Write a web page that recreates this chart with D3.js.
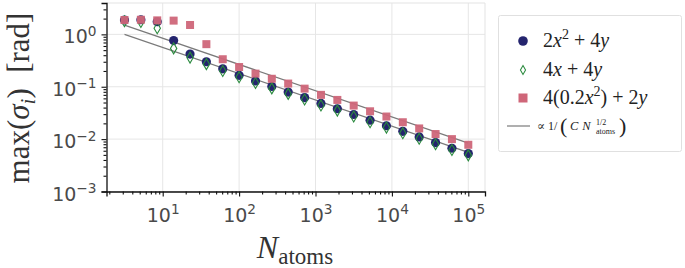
<!DOCTYPE html>
<html>
<head>
<meta charset="utf-8">
<script src="https://cdn.jsdelivr.net/npm/d3@7"></script>
<style>
  body { margin: 0; background: #fff; }
  svg { display: block; }
</style>
</head>
<body>
<svg id="chart"></svg>
<script>
// N_atoms sampled on the x axis
var nAtoms = [3.16, 5.18, 8.48, 13.9, 22.8, 37.3, 61.1, 100, 164, 268, 439, 720,
  1179, 1931, 3162, 5179, 8483, 13895, 22758, 37276, 61054, 100000];

// max(sigma_i) for each cost function
var quadQuad = [1.88, 1.90, 1.75, 0.76, 0.42, 0.30, 0.22, 0.165, 0.129, 0.101, 0.079, 0.062,
  0.048, 0.038, 0.0295, 0.023, 0.018, 0.0141, 0.011, 0.0086, 0.0067, 0.0053];
var linLin = [1.78, 1.72, 1.31, 0.54, 0.36, 0.27, 0.20, 0.152, 0.118, 0.093, 0.073, 0.057,
  0.044, 0.035, 0.027, 0.021, 0.0166, 0.013, 0.0102, 0.0080, 0.0062, 0.0049];
var weakQuad = [1.88, 1.90, 1.85, 1.83, 1.51, 0.65, 0.335, 0.238, 0.178, 0.142, 0.115, 0.092,
  0.070, 0.056, 0.0437, 0.034, 0.027, 0.021, 0.016, 0.0125, 0.0100, 0.0078];

// 1/sqrt(N) guide lines (end points)
var guideHigh = [[3.16, 1.5], [100000, 0.0084]];
var guideLow = [[3.16, 1.0], [100000, 0.0056]];

var xTicks = [10, 100, 1000, 10000, 100000];
var yTicks = [1e-3, 1e-2, 1e-1, 1];

var colors = {
  quad: '#24246e',
  lin: '#2a8a3e',
  weak: '#cf6679',
  guide: '#7a7a7a'
};

var margin = { top: 3, right: 200, bottom: 76.5, left: 106.5 },
  width = 685 - margin.left - margin.right,
  height = 268 - margin.top - margin.bottom;

var root = d3.select('#chart')
  .attr('width', 685)
  .attr('height', 268);

var svg = root.append('g')
  .attr('transform', 'translate(' + margin.left + ',' + margin.top + ')');

var x = d3.scaleLog().domain([1.838, 1.654e5]).range([0, width]);
var y = d3.scaleLog().domain([1e-3, 3.97]).range([height, 0]);

// minor tick values
function minors(lo, hi) {
  var out = [];
  for (var e = lo; e < hi; e++) {
    for (var m = 2; m <= 9; m++) out.push(m * Math.pow(10, e));
  }
  return out;
}
var xMinor = minors(0, 6).filter(function (v) { return v > x.domain()[0] && v < x.domain()[1]; });
var yMinor = minors(-3, 1).filter(function (v) { return v > y.domain()[0] && v < y.domain()[1]; });

// grid
svg.append('g').selectAll('line')
  .data(xTicks)
  .enter().append('line')
  .attr('x1', function (d) { return x(d); })
  .attr('x2', function (d) { return x(d); })
  .attr('y1', 0).attr('y2', height)
  .attr('stroke', '#e6e6e6');
svg.append('g').selectAll('line')
  .data(yTicks)
  .enter().append('line')
  .attr('x1', 0).attr('x2', width)
  .attr('y1', function (d) { return y(d); })
  .attr('y2', function (d) { return y(d); })
  .attr('stroke', '#e6e6e6');

// top/right frame
svg.append('path')
  .attr('d', 'M0,0H' + width + 'V' + height)
  .attr('fill', 'none')
  .attr('stroke', '#e3e3e3');

function supLabel(sel, fmt) {
  sel.selectAll('.tick text').each(function (d) {
    var t = d3.select(this).text('10');
    t.append('tspan')
      .attr('dy', '-0.55em')
      .attr('font-size', '0.72em')
      .text(fmt(d));
  });
}

// x axis
var gx = svg.append('g')
  .attr('transform', 'translate(0,' + height + ')')
  .call(d3.axisBottom(x).tickValues(xTicks).tickSize(5).tickPadding(8));
svg.append('g')
  .attr('transform', 'translate(0,' + height + ')')
  .call(d3.axisBottom(x).tickValues(xMinor).tickSize(3).tickFormat(''))
  .select('.domain').remove();

// y axis
var gy = svg.append('g')
  .call(d3.axisLeft(y).tickValues(yTicks).tickSize(5).tickPadding(5));
svg.append('g')
  .call(d3.axisLeft(y).tickValues(yMinor).tickSize(3).tickFormat(''))
  .select('.domain').remove();

root.selectAll('.domain').attr('stroke', '#111').attr('stroke-width', 1.3);
root.selectAll('.tick line').attr('stroke', '#111').attr('stroke-width', 1.1);

[gx, gy].forEach(function (g) {
  g.selectAll('.tick text')
    .attr('font-family', 'DejaVu Sans, sans-serif')
    .attr('font-size', 19)
    .attr('fill', '#4a4a4a');
});
supLabel(gx, function (d) { return String(Math.round(Math.log10(d))); });
supLabel(gy, function (d) { return String(Math.round(Math.log10(d))).replace('-', '\u2212'); });
gx.selectAll('.tick text').attr('dy', '0.9em');
gy.selectAll('.tick text').attr('dy', '0.45em');

// guide lines
var line = d3.line()
  .x(function (d) { return x(d[0]); })
  .y(function (d) { return y(d[1]); });
[guideHigh, guideLow].forEach(function (g) {
  svg.append('path')
    .attr('d', line(g))
    .attr('fill', 'none')
    .attr('stroke', colors.guide)
    .attr('stroke-width', 1.2);
});

// blue circles
svg.selectAll('.quad')
  .data(d3.zip(nAtoms, quadQuad))
  .enter().append('circle')
  .attr('class', 'quad')
  .attr('cx', function (d) { return x(d[0]); })
  .attr('cy', function (d) { return y(d[1]); })
  .attr('r', 4.6)
  .attr('fill', colors.quad);

// green diamonds (thin)
var diamond = 'M0,-5.5L3.2,0L0,5.5L-3.2,0Z';
svg.selectAll('.lin')
  .data(d3.zip(nAtoms, linLin))
  .enter().append('path')
  .attr('class', 'lin')
  .attr('d', diamond)
  .attr('transform', function (d) { return 'translate(' + x(d[0]) + ',' + y(d[1]) + ')'; })
  .attr('fill', 'none')
  .attr('stroke', colors.lin)
  .attr('stroke-width', 1.1);

// pink squares
svg.selectAll('.weak')
  .data(d3.zip(nAtoms, weakQuad))
  .enter().append('rect')
  .attr('class', 'weak')
  .attr('x', function (d) { return x(d[0]) - 4; })
  .attr('y', function (d) { return y(d[1]) - 4; })
  .attr('width', 8)
  .attr('height', 8)
  .attr('fill', colors.weak)
  .attr('opacity', 0.95);

// axis titles
var serif = 'Liberation Serif, DejaVu Serif, serif';
var xl = root.append('text')
  .attr('x', 295).attr('y', 258)
  .attr('text-anchor', 'middle')
  .attr('font-family', serif)
  .attr('font-size', 32)
  .attr('fill', '#333');
xl.append('tspan').attr('font-style', 'italic').text('N');
xl.append('tspan').attr('font-size', 23).attr('dy', 6).text('atoms');

var yl = root.append('text')
  .attr('transform', 'translate(29,98) rotate(-90)')
  .attr('text-anchor', 'middle')
  .attr('font-family', serif)
  .attr('font-size', 31)
  .attr('fill', '#333');
yl.append('tspan').text('max(');
yl.append('tspan').attr('font-style', 'italic').text('\u03c3');
yl.append('tspan').attr('font-style', 'italic').attr('font-size', 21).attr('dy', 6).text('i');
yl.append('tspan').attr('dy', -6).text(')\u2002[rad]');

// legend
var lg = root.append('g');
lg.append('rect')
  .attr('x', 498.5).attr('y', 15.5)
  .attr('width', 183).attr('height', 136)
  .attr('rx', 2)
  .attr('fill', '#fff')
  .attr('stroke', '#e0e0e0');

lg.append('circle').attr('cx', 523).attr('cy', 41).attr('r', 4.8).attr('fill', colors.quad);
lg.append('path').attr('d', diamond).attr('transform', 'translate(523,70) scale(0.8)')
  .attr('fill', 'none').attr('stroke', colors.lin).attr('stroke-width', 1.3);
lg.append('rect').attr('x', 518.5).attr('y', 93.5).attr('width', 9).attr('height', 9).attr('fill', colors.weak);
lg.append('line').attr('x1', 507).attr('x2', 530).attr('y1', 126).attr('y2', 126)
  .attr('stroke', colors.guide).attr('stroke-width', 1.2);

function mathText(xp, yp, parts, size) {
  var t = lg.append('text')
    .attr('x', xp).attr('y', yp)
    .attr('font-family', serif)
    .attr('font-size', size)
    .attr('fill', '#222')
    .attr('xml:space', 'preserve')
    .style('white-space', 'pre');
  parts.forEach(function (p) {
    var s = t.append('tspan').text(p[0]);
    if (p[1] === 'i') s.attr('font-style', 'italic');
    if (p[1] === 'sup') s.attr('font-size', size * 0.7).attr('dy', -size * 0.4);
    if (p[1] === 'after') s.attr('dy', size * 0.4);
  });
  return t;
}
mathText(543, 47, [['2'], ['x', 'i'], ['2', 'sup'], [' + 4', 'after'], ['y', 'i']], 20);
mathText(543, 76, [['4'], ['x', 'i'], [' + 4'], ['y', 'i']], 20);
mathText(543, 104, [['4(0.2'], ['x', 'i'], ['2', 'sup'], [') + 2', 'after'], ['y', 'i']], 20);

// proportional-to label with stacked super/subscript
var g4 = lg.append('g').attr('font-family', serif).attr('fill', '#222');
g4.append('text').attr('x', 537).attr('y', 130).attr('font-size', 12).text('\u221d 1/');
g4.append('text').attr('x', 560).attr('y', 133).attr('font-size', 22).text('(');
var cn = g4.append('text').attr('x', 570).attr('y', 130).attr('font-size', 12.5);
cn.append('tspan').attr('font-style', 'italic').text('C');
cn.append('tspan').attr('font-style', 'italic').attr('dx', 4).text('N');
g4.append('text').attr('x', 596).attr('y', 125).attr('font-size', 8).text('1/2');
g4.append('text').attr('x', 596).attr('y', 134).attr('font-size', 8).text('atoms');
g4.append('text').attr('x', 619).attr('y', 133).attr('font-size', 22).text(')');
</script>
</body>
</html>
